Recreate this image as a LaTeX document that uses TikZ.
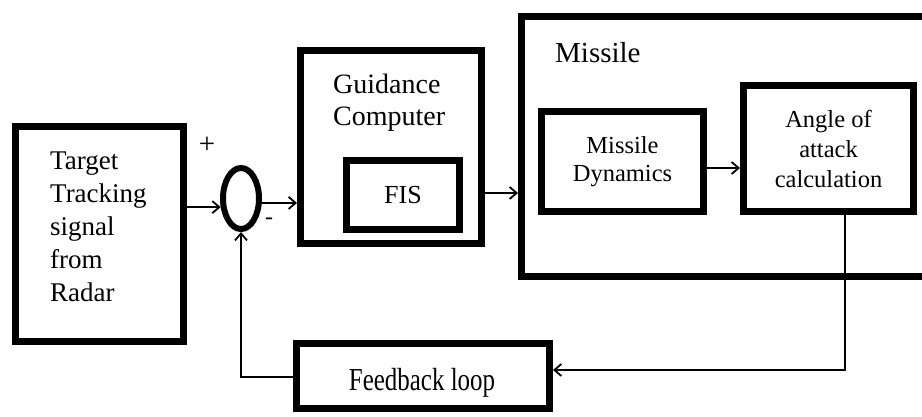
\documentclass[tikz,border=0pt]{standalone}
\usepackage{fontspec}
\setmainfont{Liberation Serif}
\usetikzlibrary{arrows.meta,shapes.geometric}

\tikzset{
  blk/.style={draw, line width=7pt, inner sep=0pt, align=center},
  sumnode/.style={draw, ellipse, line width=6pt, inner sep=0pt},
  conn/.style={line width=1.8pt, -{Straight Barb[length=7pt,width=12pt,line width=1.8pt]}},
  lbl/.style={inner sep=0pt, align=left, anchor=north west},
}

\begin{document}
\begin{tikzpicture}[x=1pt,y=-1pt]
  \clip (0,0) rectangle (922,416);

  % input block
  \node[blk, minimum width=168pt, minimum height=215pt] (tgt) at (99.5,234) {};
  \node[lbl, font=\fontsize{27}{33}\selectfont] (tgtT) at (50,152)
    {Target\\Tracking\\signal\\from\\Radar};

  % summing junction
  \node[sumnode, minimum width=36pt, minimum height=61pt] (sum) at (241,198.5) {};
  \node[inner sep=0pt, font=\fontsize{29}{29}\selectfont] (plus) at (207,145) {+};
  \node[inner sep=0pt, font=\fontsize{24}{24}\selectfont] (minus) at (269,221) {-};

  % guidance computer with the fuzzy inference system
  \node[blk, minimum width=181pt, minimum height=193pt] (gc) at (391,147) {};
  \node[lbl, font=\fontsize{28}{32}\selectfont] (gcT) at (333,74) {Guidance\\Computer};
  \node[blk, minimum width=113pt, minimum height=69pt, font=\fontsize{26}{26}\selectfont]
    (fis) at (403,195) {FIS};

  % missile block (runs past the right edge)
  \node[blk, minimum width=428.5pt, minimum height=260pt] (mis) at (735.75,146.5) {};
  \node[lbl, font=\fontsize{29}{29}\selectfont] (misT) at (555,42) {Missile};
  \node[blk, minimum width=162pt, minimum height=100pt, font=\fontsize{24.5}{28}\selectfont]
    (md) at (622.5,161.5) {Missile\\Dynamics};
  \node[blk, minimum width=170pt, minimum height=126pt, font=\fontsize{24.5}{30}\selectfont]
    (aoa) at (828.5,148.5) {Angle of\\attack\\calculation};

  % feedback block
  \node[blk, minimum width=253pt, minimum height=65pt] (fb) at (423,376) {};
  \node[inner sep=0pt, font=\fontsize{32}{32}\selectfont] (fbT) at (422,383)
    {\scalebox{0.78}[1]{Feedback loop}};

  % signal levels of the connectors
  \coordinate (ygm) at (0,193);
  \coordinate (ymd) at (0,168);
  \coordinate (xfb) at (845,370);
  \coordinate (yret) at (0,377);

  % connectors
  \draw[conn] (tgt.east |- sum.203) -- (sum.203);
  \draw[conn] (sum.348) -- (sum.348 -| gc.west);
  \draw[conn] (gc.east |- ygm) -- (mis.west |- ygm);
  \draw[conn] (md.east |- ymd) -- (aoa.west |- ymd);
  \draw[conn] (aoa.south -| xfb) |- (fb.east |- xfb);
  \draw[conn] (fb.west |- yret) -| (sum.south);
\end{tikzpicture}
\end{document}
